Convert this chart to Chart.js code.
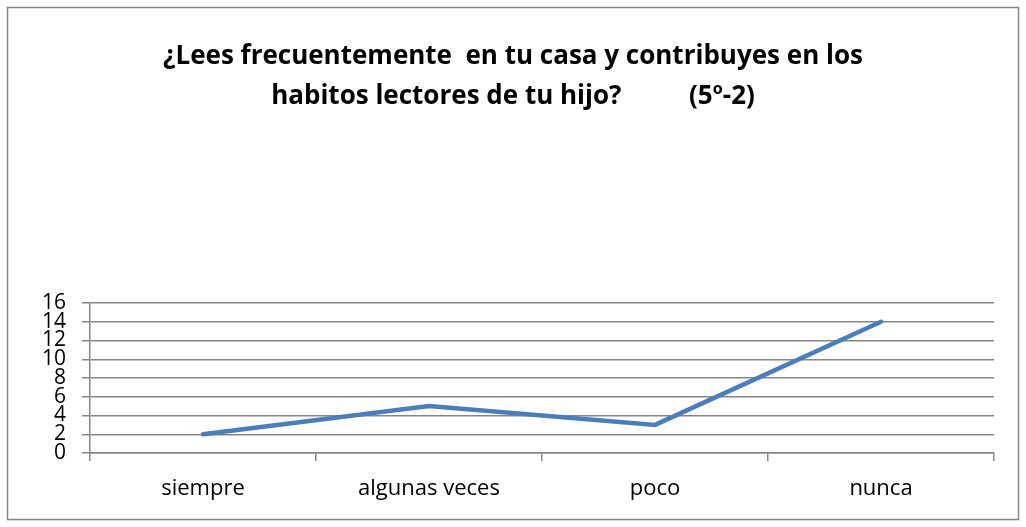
<!DOCTYPE html>
<html lang="es">
<head>
  <meta charset="UTF-8">
  <title>Hábitos lectores</title>
  <script src="https://cdn.jsdelivr.net/npm/chart.js@4"></script>
  <style>
    html, body { margin: 0; padding: 0; background: #fff; }
    #wrap { width: 1026px; height: 527px; }
  </style>
</head>
<body>
  <div id="wrap"><canvas id="lineChart" width="1026" height="527"></canvas></div>

  <script>
    const categories = ['siempre', 'algunas veces', 'poco', 'nunca'];
    const respuestas = [2, 5, 3, 14];
    const yTicks = [0, 2, 4, 6, 8, 10, 12, 14, 16];
    const titleLines = [
      '¿Lees frecuentemente  en tu casa y contribuyes en los',
      'habitos lectores de tu hijo?          (5º-2)'
    ];

    const grey = '#868686';

    // outer frame round the whole chart
    const frame = {
      id: 'frame',
      beforeDraw(chart) {
        const { ctx } = chart;
        ctx.save();
        ctx.fillStyle = '#fff';
        ctx.fillRect(0, 0, chart.width, chart.height);
        ctx.strokeStyle = grey;
        ctx.lineWidth = 1.5;
        ctx.strokeRect(7.5, 7.5, chart.width - 15, chart.height - 15);
        ctx.restore();
      }
    };

    const ctx = document.getElementById('lineChart').getContext('2d');
    new Chart(ctx, {
      type: 'line',
      data: {
        labels: categories,
        datasets: [{
          data: respuestas,
          borderColor: '#4a7ebb',
          borderWidth: 4.5,
          borderCapStyle: 'round',
          pointRadius: 0,
          tension: 0
        }]
      },
      options: {
        responsive: false,
        animation: false,
        layout: { padding: { left: 16, right: 16, top: 0, bottom: 0 } },
        plugins: {
          legend: { display: false },
          tooltip: { enabled: false },
          title: {
            display: true,
            text: titleLines,
            color: '#000',
            font: { family: 'Open Sans', size: 26, weight: 'bold', lineHeight: '40px' },
            padding: { top: 37, bottom: 186 }
          }
        },
        scales: {
          x: {
            offset: true,
            grid: {
              offset: true,
              drawOnChartArea: false,
              drawTicks: true,
              tickLength: 8,
              color: grey,
              lineWidth: 1.5
            },
            border: { display: true, color: grey, width: 1.5 },
            ticks: {
              color: '#000',
              font: { family: 'Open Sans', size: 22 },
              padding: 15,
              maxRotation: 0,
              autoSkip: false
            },
            afterFit(scale) { scale.height = 74; }
          },
          y: {
            min: 0,
            max: 16,
            afterBuildTicks(scale) {
              scale.ticks = yTicks.map(v => ({ value: v }));
            },
            grid: {
              color: grey,
              lineWidth: 1.5,
              tickLength: 8
            },
            border: { display: true, color: grey, width: 1.5 },
            ticks: {
              color: '#000',
              font: { family: 'Open Sans', size: 21 },
              padding: 16,
              autoSkip: false
            },
            afterFit(scale) { scale.width = 74; }
          },
          // empty right-hand strip so the title stays centred on the page
          yRight: {
            position: 'right',
            grid: { display: false },
            border: { display: false },
            ticks: { display: false },
            afterFit(scale) { scale.width = 16; }
          }
        }
      },
      plugins: [frame]
    });
  </script>
</body>
</html>
